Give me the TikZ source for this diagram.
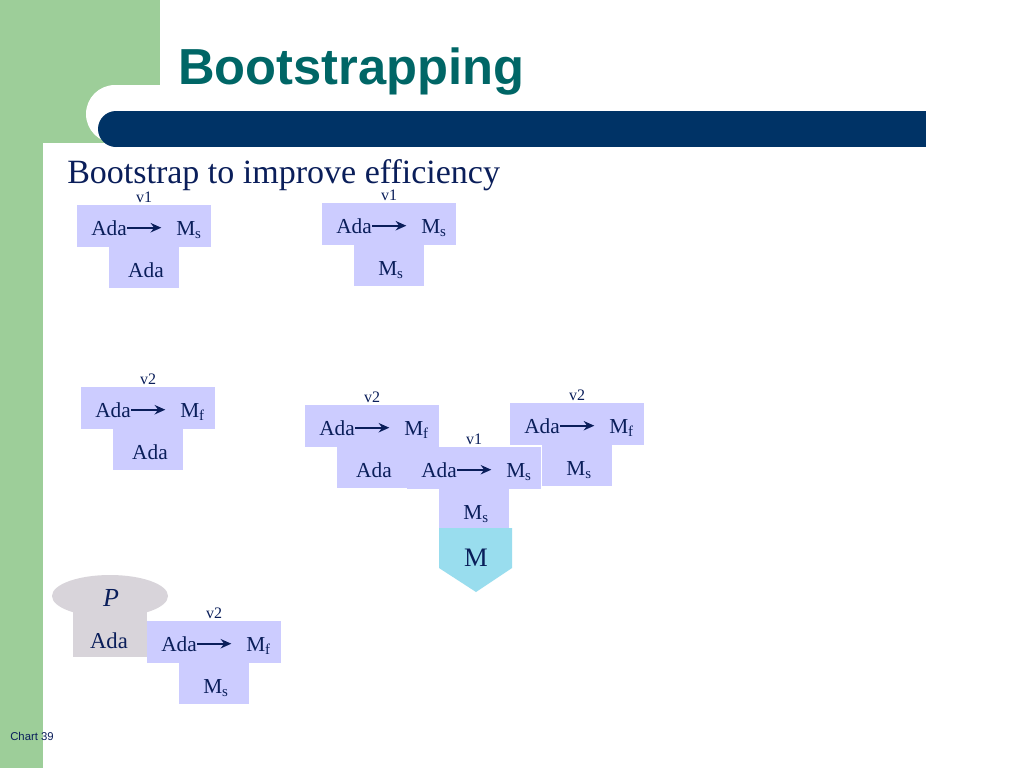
\documentclass[tikz,border=0pt]{standalone}
\usepackage{fontspec}
\setmainfont{Liberation Serif}
\setsansfont{Liberation Sans}
\usepackage{xcolor}
\usepackage{tikz}
\usetikzlibrary{positioning, arrows.meta}

\definecolor{sidegreen}{RGB}{157,206,153}
\definecolor{barblue}{RGB}{0,51,102}
\definecolor{titleteal}{RGB}{0,102,102}
\definecolor{inkblue}{RGB}{10,30,90}
\definecolor{lavender}{RGB}{204,204,255}
\definecolor{mcyan}{RGB}{153,221,238}
\definecolor{pgrey}{RGB}{216,212,218}

\tikzset{
  tbox/.style={fill=lavender, minimum width=100.5pt, minimum height=31.5pt, inner sep=0pt, anchor=north west},
  bbox/.style={fill=lavender, minimum width=52.5pt, minimum height=30.75pt, inner sep=0pt, anchor=north west},
  lbl/.style={text=inkblue, font=\fontsize{16}{18}\selectfont, inner sep=0pt},
  vlbl/.style={text=inkblue, font=\fontsize{12}{14}\selectfont, inner sep=0pt, anchor=base},
  tarrow/.style={-{Stealth[length=8pt,width=7pt]}, line width=1.4pt, draw=inkblue, shorten >=11pt}
}

\begin{document}
\begin{tikzpicture}[x=0.75pt, y=-0.75pt]
        \useasboundingbox (0,0) rectangle (1024,768);

        % Background
        \fill[sidegreen] (0,0) rectangle (160,143);
        \fill[sidegreen] (0,0) rectangle (43,768);
        \fill[white, rounded corners=21.75pt] (1060,85) -- (86,85) -- (86,143) -- (1060,143) -- cycle;
        \fill[white] (43,143) rectangle (1024,768);
        \fill[barblue] (116,111) rectangle (926,147);
        \fill[barblue] (116,129) circle (13.5pt);

        \node[anchor=base west, inner sep=0pt, text=titleteal, font=\sffamily\bfseries\fontsize{38}{42}\selectfont] (title) at (178,84) {Bootstrapping};
        \node[anchor=base west, inner sep=0pt, text=inkblue, font=\fontsize{25.5}{28}\selectfont] (subtitle) at (67,183) {Bootstrap to improve efficiency};
        \node[anchor=base west, inner sep=0pt, text=inkblue, font=\sffamily\fontsize{8.5}{10}\selectfont] (chart) at (10,740) {Chart 39};

        % T-diagrams
        \foreach \n/\x/\y/\imp/\sub/\vv in {a/77/205/Ada/s/v1, b/322/203/M\textsubscript{s}/s/v1,
            c/81/387/Ada/f/v2, d/305/405/Ada/f/v2, e/407/447/M\textsubscript{s}/s/v1,
            f/510/403/M\textsubscript{s}/f/v2, g/147/621/M\textsubscript{s}/f/v2} {
          \node[tbox] (top\n) at (\x,\y) {};
          \node[bbox] (bot\n) at (\x+32,\y+42) {};
          \node[vlbl] (ver\n) at (\x+67,\y-3) {\vv};
          \node[lbl, anchor=base west] (src\n) at (\x+14,\y+30) {Ada};
          \node[lbl, anchor=base west] (tgt\n) at (\x+99,\y+30) {M\textsubscript{\sub}};
          \node[lbl, anchor=base] (imp\n) at (\x+69,\y+72) {\imp};
          \draw[tarrow] (src\n.east) -- (src\n.east -| tgt\n.west);
        }

        % Machine M
        \fill[mcyan] (439,528) -- (512,528) -- (512,568) -- (476,592) -- (439,568) -- cycle;
        \node[anchor=base, inner sep=0pt, text=inkblue, font=\fontsize{20}{22}\selectfont] (mach) at (476,566) {M};

        % Program P
        \fill[pgrey] (110,596) ellipse (43.5pt and 15.75pt);
        \fill[pgrey] (73,596) rectangle (147,657);
        \node[anchor=base, inner sep=0pt, text=inkblue, font=\itshape\fontsize{19.5}{22}\selectfont] (prog) at (111,606) {P};
        \node[anchor=base, inner sep=0pt, text=inkblue, font=\fontsize{17}{20}\selectfont] (progada) at (109,648) {Ada};
\end{tikzpicture}
\end{document}
